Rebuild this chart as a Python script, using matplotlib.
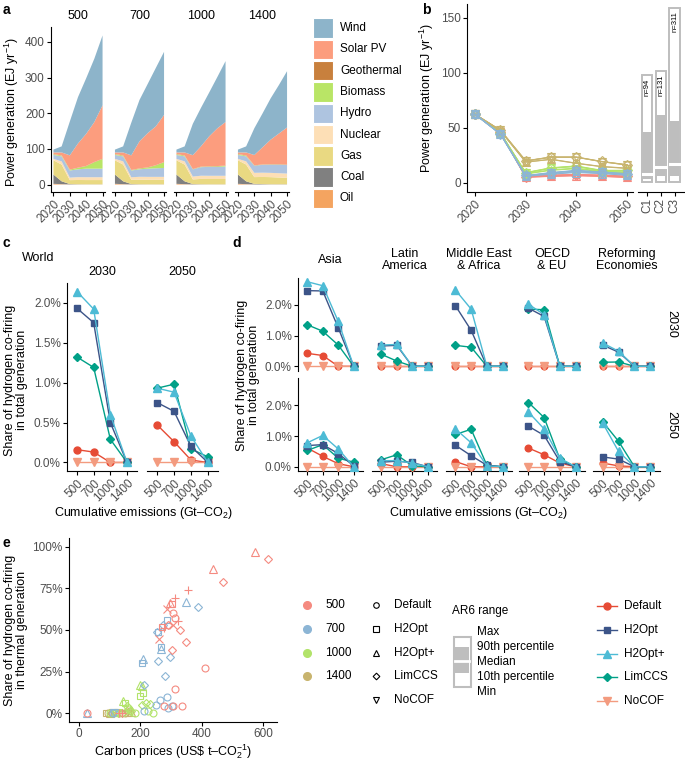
import matplotlib
matplotlib.use('Agg')
import matplotlib.pyplot as plt
from matplotlib.patches import Rectangle

plt.rcParams['font.family'] = ['Liberation Sans', 'DejaVu Sans']
plt.rcParams['mathtext.fontset'] = 'custom'
plt.rcParams['mathtext.rm'] = 'Liberation Sans'
plt.rcParams['mathtext.it'] = 'Liberation Sans:italic'
plt.rcParams['mathtext.default'] = 'regular'

# ---------------- data ----------------
# panel a: power generation mix (EJ/yr) by carbon budget
a_years = [2020, 2025, 2030, 2035, 2040, 2045, 2050]
a_budgets = ['500', '700', '1000', '1400']
a_techs = ['Oil', 'Coal', 'Gas', 'Nuclear', 'Hydro', 'Biomass', 'Geothermal', 'Solar PV', 'Wind']
a_colors = ['#F4A460', '#808080', '#E9D982', '#FDDFB6', '#AEC4E0', '#B9E566', '#C8803D', '#FC9D7E', '#8DB4CA']
gen_500 = {'Oil': [2, 1, 0.3, 0.2, 0.2, 0.2, 0.2], 'Coal': [26, 8, 1, 0.5, 0.3, 0.3, 0.3],
           'Gas': [40, 47, 11, 12, 12, 12, 12], 'Nuclear': [4, 9, 7, 8, 8, 8, 8],
           'Hydro': [11, 14, 20, 22, 24, 24, 24], 'Biomass': [2, 2, 2, 4, 7, 18, 27],
           'Geothermal': [0.5, 0.5, 0.5, 0.6, 0.7, 0.8, 0.8], 'Solar PV': [4.5, 8.5, 40, 68, 90, 112, 150],
           'Wind': [8, 17, 95, 130, 156, 178, 196]}
gen_700 = {'Oil': [2, 1, 0.3, 0.2, 0.2, 0.2, 0.2], 'Coal': [26, 8, 1, 0.5, 0.3, 0.3, 0.3],
           'Gas': [40, 47, 12, 13, 13, 13, 13], 'Nuclear': [4, 9, 7, 8, 8, 8, 8],
           'Hydro': [11, 14, 19, 21, 23, 24, 25], 'Biomass': [2, 2, 1, 2, 3, 8, 16],
           'Geothermal': [0.5, 0.5, 0.5, 0.6, 0.7, 0.8, 0.8], 'Solar PV': [4.5, 8.5, 41, 76, 96, 109, 132],
           'Wind': [8, 17, 92, 116, 138, 164, 177]}
gen_1000 = {'Oil': [2, 1, 0.3, 0.2, 0.2, 0.2, 0.2], 'Coal': [26, 8, 1, 0.5, 0.3, 0.3, 0.3],
            'Gas': [40, 47, 13, 15, 15, 15, 15], 'Nuclear': [4, 9, 8, 9, 9, 9, 9],
            'Hydro': [11, 14, 20, 24, 25, 25, 26], 'Biomass': [2, 2, 0.5, 1, 1, 1.5, 2],
            'Geothermal': [0.5, 0.5, 0.5, 0.6, 0.7, 0.8, 0.8], 'Solar PV': [4.5, 8.5, 39, 57, 84, 106, 122],
            'Wind': [8, 17, 88, 108, 123, 144, 171]}
gen_1400 = {'Oil': [2, 1, 0.3, 0.2, 0.2, 0.2, 0.2], 'Coal': [26, 8, 1.5, 1, 0.5, 0.5, 0.5],
            'Gas': [40, 47, 19, 20, 20, 19, 18], 'Nuclear': [4, 9, 12, 12, 12, 12, 12],
            'Hydro': [11, 14, 20, 22, 23, 24, 24], 'Biomass': [2, 2, 0.5, 0.5, 0.5, 0.5, 0.5],
            'Geothermal': [0.5, 0.5, 0.5, 0.6, 0.7, 0.8, 0.8], 'Solar PV': [4.5, 8.5, 29, 48, 69, 86, 104],
            'Wind': [8, 17, 75, 95, 116, 136, 158]}

# panel b: thermal power generation (EJ/yr)
b_years = [2020, 2025, 2030, 2035, 2040, 2045, 2050]
b_500 = {'Default': [62.4, 46, 5.5, 6.5, 7.0, 6.5, 5.5], 'H2Opt': [62.4, 46, 5.3, 6.2, 6.8, 6.2, 5.2],
         'H2Opt+': [62.4, 46, 5.2, 6.0, 6.6, 6.0, 5.0], 'LimCCS': [62.4, 46, 5.8, 7.0, 7.5, 7.0, 6.0],
         'NoCOF': [62.4, 46, 6.0, 7.2, 7.8, 7.2, 6.3]}
b_700 = {'Default': [62.4, 44.5, 6.4, 9.0, 11.0, 9.5, 8.0], 'H2Opt': [62.4, 44.5, 6.2, 8.5, 10.0, 9.0, 7.5],
         'H2Opt+': [62.4, 44.5, 6.0, 8.0, 9.5, 8.5, 7.0], 'LimCCS': [62.4, 44.5, 6.8, 9.5, 11.5, 10.0, 8.5],
         'NoCOF': [62.4, 44.5, 6.5, 9.2, 11.2, 9.8, 8.2]}
b_1000 = {'Default': [62.4, 45.5, 9.0, 13.5, 15.0, 11.0, 11.0], 'H2Opt': [62.4, 45.5, 8.5, 12.0, 13.5, 10.5, 10.0],
          'H2Opt+': [62.4, 45.5, 8.2, 11.5, 13.0, 10.0, 9.5], 'LimCCS': [62.4, 45.5, 9.5, 13.8, 15.5, 11.5, 11.5],
          'NoCOF': [62.4, 45.5, 9.2, 13.6, 15.2, 11.2, 11.2]}
b_1400 = {'Default': [62.4, 48, 20.0, 23.5, 23.5, 19.4, 16.4], 'H2Opt': [62.4, 47.5, 19.0, 21.6, 18.0, 15.0, 13.5],
          'H2Opt+': [62.4, 47.5, 19.0, 21.4, 17.8, 14.8, 13.2], 'LimCCS': [62.4, 48, 20.2, 23.6, 23.6, 19.6, 16.6],
          'NoCOF': [62.4, 48, 20.0, 23.4, 23.4, 19.4, 16.4]}
ar6_cats = ['C1', 'C2', 'C3']
ar6_min = [0.5, 0.5, 1.0]
ar6_p10 = [3.6, 6.6, 6.7]
ar6_med = [8.0, 14.5, 17.3]
ar6_p90 = [46, 62, 56]
ar6_max = [98, 101.5, 159]
ar6_n = ['n=94', 'n=131', 'n=311']

# panel c: world share of H2 co-firing in total generation (%)
cum_em = ['500', '700', '1000', '1400']
scenarios = ['Default', 'H2Opt', 'H2Opt+', 'LimCCS', 'NoCOF']
c_2030 = {'Default': [0.16, 0.13, 0.0, 0.0], 'H2Opt': [1.93, 1.75, 0.50, 0.0],
          'H2Opt+': [2.14, 1.92, 0.60, 0.0], 'LimCCS': [1.32, 1.19, 0.29, 0.0], 'NoCOF': [0, 0, 0, 0]}
c_2050 = {'Default': [0.47, 0.26, 0.03, 0.0], 'H2Opt': [0.75, 0.64, 0.20, 0.0],
          'H2Opt+': [0.93, 0.88, 0.33, 0.0], 'LimCCS': [0.93, 0.98, 0.17, 0.07], 'NoCOF': [0, 0, 0, 0]}

# panel d: regional shares (%)
regions = ['Asia', 'Latin\nAmerica', 'Middle East\n& Africa', 'OECD\n& EU', 'Reforming\nEconomies']
d_asia_2030 = {'Default': [0.42, 0.35, 0, 0], 'H2Opt': [2.46, 2.45, 1.25, 0], 'H2Opt+': [2.75, 2.62, 1.46, 0],
               'LimCCS': [1.35, 1.14, 0.69, 0], 'NoCOF': [0, 0, 0, 0]}
d_lam_2030 = {'Default': [0, 0, 0, 0], 'H2Opt': [0.66, 0.68, 0, 0], 'H2Opt+': [0.69, 0.71, 0, 0],
              'LimCCS': [0.39, 0.17, 0, 0], 'NoCOF': [0, 0, 0, 0]}
d_mea_2030 = {'Default': [0, 0, 0, 0], 'H2Opt': [1.97, 1.17, 0, 0], 'H2Opt+': [2.48, 1.86, 0, 0],
              'LimCCS': [0.68, 0.62, 0, 0], 'NoCOF': [0, 0, 0, 0]}
d_oecd_2030 = {'Default': [0, 0, 0, 0], 'H2Opt': [1.89, 1.62, 0, 0], 'H2Opt+': [2.02, 1.68, 0, 0],
               'LimCCS': [1.86, 1.84, 0, 0], 'NoCOF': [0, 0, 0, 0]}
d_ref_2030 = {'Default': [0, 0, 0, 0], 'H2Opt': [0.69, 0.46, 0, 0], 'H2Opt+': [0.76, 0.49, 0, 0],
              'LimCCS': [0.13, 0.14, 0, 0], 'NoCOF': [0, 0, 0, 0]}
d_asia_2050 = {'Default': [0.61, 0.34, 0.10, 0], 'H2Opt': [0.69, 0.72, 0.43, 0.03], 'H2Opt+': [0.78, 1.02, 0.58, 0],
               'LimCCS': [0.53, 0.72, 0.28, 0.15], 'NoCOF': [0, 0, 0, 0]}
d_lam_2050 = {'Default': [0.10, 0, 0, 0], 'H2Opt': [0.15, 0.18, 0.14, 0], 'H2Opt+': [0.20, 0.20, 0.12, 0],
              'LimCCS': [0.23, 0.39, 0.03, 0], 'NoCOF': [0, 0, 0, 0]}
d_mea_2050 = {'Default': [0.17, 0, 0, 0], 'H2Opt': [0.70, 0.36, 0.05, 0], 'H2Opt+': [1.23, 0.78, 0.03, 0],
              'LimCCS': [1.05, 1.22, 0.05, 0], 'NoCOF': [0, 0, 0, 0]}
d_oecd_2050 = {'Default': [0.61, 0.39, 0.12, 0], 'H2Opt': [1.32, 1.02, 0.17, 0], 'H2Opt+': [1.78, 1.23, 0.28, 0],
               'LimCCS': [2.09, 1.60, 0.25, 0], 'NoCOF': [0, 0, 0, 0]}
d_ref_2050 = {'Default': [0.12, 0.03, 0, 0], 'H2Opt': [0.32, 0.25, 0, 0], 'H2Opt+': [1.43, 0.50, 0, 0],
              'LimCCS': [1.47, 0.83, 0, 0], 'NoCOF': [0, 0, 0, 0]}

# panel e: carbon price vs share of H2 co-firing in thermal generation (%)
e_price_500 = [572, 615, 435, 469, 353, 312, 296, 301, 287, 305, 312, 323, 291, 307, 277, 269, 260, 328, 347, 302,
               409, 312, 278, 307, 334, 27, 131, 140]
e_share_500 = [97, 93, 86.5, 79, 74, 69, 66.5, 65.5, 62.5, 60, 57.5, 55.4, 53, 53, 51, 52, 44.5, 50, 43, 38,
               27, 14.5, 4, 4.5, 4, 0, 0, 0]
e_shape_500 = ['^', 'D', '^', 'D', '+', '+', '^', 's', 'x', 'o', 'o', '+', 'D', 'x', '+', 's', 'x', 'D', 'D', 'D',
               'o', 'o', 'o', 'o', 'o', 'o', '+', '+']
e_price_700 = [347, 388, 285, 274, 258, 253, 267, 267, 207, 205, 258, 297, 280, 210, 264, 285, 290, 303, 250, 212,
               27, 111, 115]
e_share_700 = [67, 64, 56, 53, 49, 48.5, 39.5, 38.5, 32.5, 30, 31.5, 34, 22, 17, 7.6, 9.5, 3, 4, 5, 1,
               0, 0, 0]
e_shape_700 = ['^', 'D', 's', 'D', 's', 'D', 's', '^', '^', 's', 'D', 'D', 'D', 'D', 'o', 'o', 'o', 'o', 'o', 'o',
               '^', 'o', 'v']
e_price_1000 = [204, 199, 198, 209, 204, 218, 231, 224, 242, 144, 150, 157, 164, 169, 182, 160, 101, 117, 128]
e_share_1000 = [16.5, 17, 10, 12, 5, 6, 5.5, 1, 0, 7.5, 5.8, 4.3, 2.7, 1.3, 0, 0.5, 0, 0, 0]
e_shape_1000 = ['^', '^', 's', 's', 'D', 'D', 'D', 'o', 'o', '^', 's', 'D', 'o', 'D', 'o', 'x', 'o', 's', 'v']
e_price_1400 = [88, 95, 100, 105, 110, 120, 130, 140, 150, 160, 155, 165, 170]
e_share_1400 = [0, 0, 0, 0, 0, 0, 0, 0, 0, 0, 1.5, 1.0, 0.5]
e_shape_1400 = ['s', 'o', '^', 'D', 'v', 's', 'o', 'D', 'o', 's', 'D', 'o', '^']

# ---------------- styles ----------------
W, H = 685, 762
fig = plt.figure(figsize=(W / 100, H / 100), dpi=100)
TICK = '#4D4D4D'
FS = 8.5
budget_colors = {'500': '#F58A80', '700': '#8CB5D5', '1000': '#B2E36A', '1400': '#C8B46E'}
sc_colors = {'Default': '#E64B35', 'H2Opt': '#3C5488', 'H2Opt+': '#4DBBD5', 'LimCCS': '#00A087', 'NoCOF': '#F39B7F'}
sc_markers = {'Default': 'o', 'H2Opt': 's', 'H2Opt+': '^', 'LimCCS': 'D', 'NoCOF': 'v'}
sc_ms = {'Default': 5, 'H2Opt': 4.6, 'H2Opt+': 5.6, 'LimCCS': 4.4, 'NoCOF': 5.6}
shape_ms = {'o': 4.6, 's': 4.4, '^': 5.2, 'D': 4.0, 'v': 5.2, '+': 6.0, 'x': 5.0}


def add_ax(x0, x1, y0, y1):
    return fig.add_axes([x0 / W, 1 - y1 / H, (x1 - x0) / W, (y1 - y0) / H])


def style(ax, left=True):
    for s in ['top', 'right']:
        ax.spines[s].set_visible(False)
    ax.spines['left'].set_visible(left)
    for s in ['left', 'bottom']:
        ax.spines[s].set_linewidth(0.8)
    ax.tick_params(axis='both', direction='out', length=3, width=0.8, color='black',
                   labelcolor=TICK, labelsize=FS, pad=1.5)
    if not left:
        ax.tick_params(axis='y', left=False, labelleft=False)
    ax.patch.set_alpha(0)


ov = fig.add_axes([0, 0, 1, 1])
ov.set_xlim(0, W)
ov.set_ylim(H, 0)
ov.axis('off')


def txt(x, y, s, **kw):
    kw.setdefault('fontsize', 9)
    kw.setdefault('ha', 'center')
    kw.setdefault('va', 'center')
    ov.text(x, y, s, **kw)


# ---------------- panel a ----------------
gens = [gen_500, gen_700, gen_1000, gen_1400]
a_x0 = [51, 112.5, 174, 235.5]
for k, (b, g) in enumerate(zip(a_budgets, gens)):
    ax = add_ax(a_x0[k], a_x0[k] + 54, 27, 192)
    style(ax, left=(k == 0))
    ax.stackplot(a_years, [g[t] for t in a_techs], colors=a_colors, linewidth=0)
    ax.set_xlim(2018.5, 2051.5)
    ax.set_ylim(-21, 442)
    ax.set_yticks([0, 100, 200, 300, 400])
    ax.set_xticks([2020, 2030, 2040, 2050])
    ax.set_xticklabels(['2020', '2030', '2040', '2050'], rotation=45, ha='right', va='top',
                       rotation_mode='anchor')
    txt(a_x0[k] + 27, 16, b)
txt(12, 112, 'Power generation (EJ yr$^{-1}$)', rotation=90)
txt(3, 10, 'a', fontweight='bold', fontsize=10, ha='left')
for i, t in enumerate(a_techs[::-1]):
    y = 28 + i * 21.3
    ov.add_patch(Rectangle((313, y - 9.7), 20, 19.4, fc=a_colors[::-1][i], ec='white', lw=0.8))
    txt(340, y, t, ha='left', fontsize=FS)

# ---------------- panel b ----------------
axb = add_ax(467, 633, 4, 192)
style(axb)
bdata = [('500', b_500), ('1000', b_1000), ('1400', b_1400), ('700', b_700)]
for bud, dd in bdata:
    for sc in scenarios:
        axb.plot(b_years, dd[sc], color=budget_colors[bud], lw=0.8, marker=sc_markers[sc],
                 ms=shape_ms[sc_markers[sc]] + 0.6, mfc='none', mew=0.8)
axb.set_xlim(2018.4, 2051.2)
axb.set_ylim(-8.2, 162.7)
axb.set_yticks([0, 50, 100, 150])
axb.set_xticks([2020, 2030, 2040, 2050])
axb.set_xticklabels(['2020', '2030', '2040', '2050'], rotation=45, ha='right', va='top', rotation_mode='anchor')
txt(427, 98, 'Power generation (EJ yr$^{-1}$)', rotation=90)
txt(422, 10, 'b', fontweight='bold', fontsize=10, ha='left')

axr = add_ax(638, 685, 4, 192)
style(axr, left=False)
axr.set_ylim(-8.2, 162.7)
axr.set_xlim(0.345, 3.76)
bw = 0.76
for i in range(3):
    xi = i + 1
    axr.add_patch(Rectangle((xi - bw / 2, ar6_min[i]), bw, ar6_max[i] - ar6_min[i], fc='white',
                            ec='#BEBEBE', lw=1.4))
    axr.add_patch(Rectangle((xi - bw / 2 + 0.06, ar6_p10[i]), bw - 0.12, ar6_p90[i] - ar6_p10[i],
                            fc='#BEBEBE', ec='none'))
    axr.plot([xi - bw / 2 + 0.06, xi + bw / 2 - 0.06], [ar6_med[i]] * 2, color='white', lw=2.2)
    axr.text(xi, ar6_max[i] - 3, ar6_n[i], rotation=90, ha='center', va='top', fontsize=5.5)
axr.set_xticks([1, 2, 3])
axr.set_xticklabels(ar6_cats, rotation=90, ha='right', va='center', rotation_mode='anchor')


# ---------------- panel c ----------------
def draw_lines(ax, dd, ms_scale=1.0):
    for sc in ['Default', 'NoCOF', 'LimCCS', 'H2Opt', 'H2Opt+']:
        ax.plot(range(4), dd[sc], color=sc_colors[sc], lw=1.0, marker=sc_markers[sc],
                ms=sc_ms[sc] * ms_scale, mec=sc_colors[sc], zorder=3)


c_x = [(67, 137), (147, 218)]
for k, (yr, dd) in enumerate([('2030', c_2030), ('2050', c_2050)]):
    ax = add_ax(c_x[k][0], c_x[k][1], 283, 471)
    style(ax, left=(k == 0))
    draw_lines(ax, dd)
    ax.set_xlim(-0.6, 3.6)
    ax.set_ylim(-0.107, 2.247)
    ax.set_yticks([0, 0.5, 1.0, 1.5, 2.0])
    ax.set_yticklabels(['0.0%', '0.5%', '1.0%', '1.5%', '2.0%'])
    ax.set_xticks(range(4))
    ax.set_xticklabels(cum_em, rotation=45, ha='right', va='top', rotation_mode='anchor')
    txt((c_x[k][0] + c_x[k][1]) / 2, 272, yr)
txt(143, 513, 'Cumulative emissions (Gt\u2013CO$_2$)')
txt(16, 380, 'Share of hydrogen co-firing\nin total generation', rotation=90, linespacing=1.0)
txt(22, 258, 'World', ha='left')
txt(3, 243, 'c', fontweight='bold', fontsize=10, ha='left')

# ---------------- panel d ----------------
d_rows = [('2030', [d_asia_2030, d_lam_2030, d_mea_2030, d_oecd_2030, d_ref_2030], (277.5, 370.5)),
          ('2050', [d_asia_2050, d_lam_2050, d_mea_2050, d_oecd_2050, d_ref_2050], (378, 471))]
d_x = [(298, 363), (372, 437), (446, 512), (519, 585), (593, 660)]
for r, (yr, dsets, (y0, y1)) in enumerate(d_rows):
    for k, dd in enumerate(dsets):
        ax = add_ax(d_x[k][0], d_x[k][1], y0, y1)
        style(ax, left=(k == 0))
        draw_lines(ax, dd, 0.95)
        ax.set_xlim(-0.6, 3.6)
        ax.set_ylim(-0.1375, 2.8875)
        ax.set_yticks([0, 1, 2])
        ax.set_yticklabels(['0.0%', '1.0%', '2.0%'])
        ax.set_xticks(range(4))
        if r == 1:
            ax.set_xticklabels(cum_em, rotation=45, ha='right', va='top', rotation_mode='anchor')
        else:
            ax.tick_params(axis='x', bottom=False, labelbottom=False)
            ax.spines['bottom'].set_visible(False)
        if r == 0:
            txt((d_x[k][0] + d_x[k][1]) / 2, 260, regions[k], linespacing=1.0)
    txt(671, (y0 + y1) / 2, yr, rotation=-90)
txt(478, 513, 'Cumulative emissions (Gt\u2013CO$_2$)')
txt(248, 375, 'Share of hydrogen co-firing\nin total generation', rotation=90, linespacing=1.0)
txt(232, 243, 'd', fontweight='bold', fontsize=10, ha='left')

# ---------------- panel e ----------------
axe = add_ax(69, 277, 538, 722)
style(axe)
edata = [('1400', e_price_1400, e_share_1400, e_shape_1400),
         ('1000', e_price_1000, e_share_1000, e_shape_1000),
         ('700', e_price_700, e_share_700, e_shape_700),
         ('500', e_price_500, e_share_500, e_shape_500)]
for bud, xs, ys, shs in edata:
    for xv, yv, sh in zip(xs, ys, shs):
        axe.plot([xv], [yv], linestyle='none', marker=sh, ms=shape_ms[sh] + 0.4, mfc='none',
                 mec=budget_colors[bud], mew=0.8)
axe.set_xlim(-32.5, 644)
axe.set_ylim(-5.4, 105.4)
axe.set_xticks([0, 200, 400, 600])
axe.set_yticks([0, 25, 50, 75, 100])
axe.set_yticklabels(['0%', '25%', '50%', '75%', '100%'])
txt(173, 752, 'Carbon prices (US\\$ t\u2013CO$_2^{-1}$)')
txt(16, 630, 'Share of hydrogen co-firing\nin thermal generation', rotation=90, linespacing=1.0)
txt(3, 543, 'e', fontweight='bold', fontsize=10, ha='left')

# legends for e
leg_y = [605, 629, 653, 676, 700]
for i, b in enumerate(a_budgets):
    ov.plot([307], [leg_y[i]], marker='o', ms=5.5, color=budget_colors[b], linestyle='none')
    txt(325, leg_y[i], b, ha='left', fontsize=FS)
for i, sc in enumerate(scenarios):
    ov.plot([376], [leg_y[i]], marker=sc_markers[sc], ms=shape_ms[sc_markers[sc]] - 0.6, mfc='none',
            mec='black', mew=0.8, linestyle='none')
    txt(394, leg_y[i], sc, ha='left', fontsize=FS)
txt(452, 611, 'AR6 range', ha='left', fontsize=FS)
ov.add_patch(Rectangle((454, 637), 17, 50, fc='white', ec='#BEBEBE', lw=1.5))
ov.add_patch(Rectangle((455.5, 647), 14, 26, fc='#BEBEBE', ec='none'))
ov.plot([455.5, 469.5], [660.5, 660.5], color='white', lw=2)
for lab, yy in zip(['Max', '90th percentile', 'Median', '10th percentile', 'Min'], [632, 647, 662, 677, 692]):
    txt(477, yy, lab, ha='left', fontsize=FS)
for i, sc in enumerate(scenarios):
    yy = leg_y[i] + 1
    ov.plot([597, 617], [yy, yy], color=sc_colors[sc], lw=1.0)
    ov.plot([607], [yy], marker=sc_markers[sc], ms=sc_ms[sc], color=sc_colors[sc], linestyle='none')
    txt(624, yy, sc, ha='left', fontsize=FS)

fig.savefig('out.png', dpi=100)
